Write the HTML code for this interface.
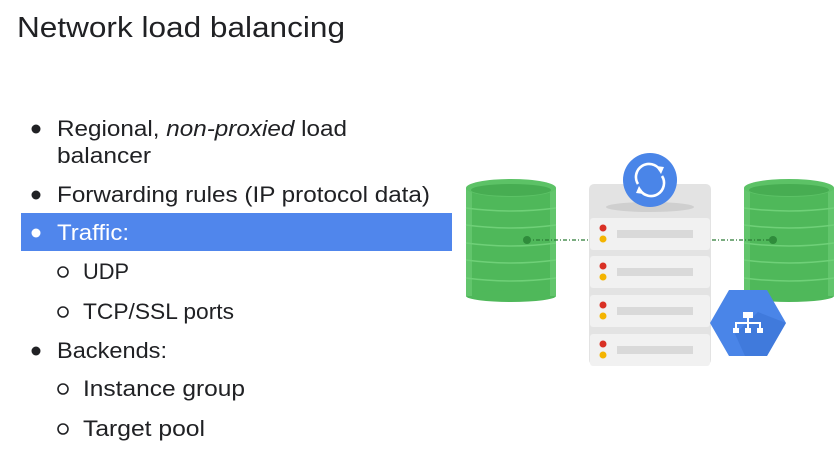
<!DOCTYPE html>
<html><head><meta charset="utf-8"><style>
html,body{margin:0;padding:0;background:#fff;width:837px;height:463px;overflow:hidden}
svg{display:block}
text{font-family:"Liberation Sans",sans-serif;fill:#202124}
</style></head><body>
<svg width="837" height="463" viewBox="0 0 837 463">
<text x="17" y="37" font-size="29" textLength="328" lengthAdjust="spacingAndGlyphs">Network load balancing</text>
<rect x="21" y="213" width="431" height="38" fill="#5086ec"/>
<g font-size="22">
<circle cx="36" cy="129" r="4.5" fill="#202124"/>
<text x="57" y="136" textLength="290" lengthAdjust="spacingAndGlyphs">Regional, <tspan font-style="italic">non-proxied</tspan> load</text>
<text x="57" y="163" textLength="94" lengthAdjust="spacingAndGlyphs">balancer</text>
<circle cx="36" cy="195" r="4.5" fill="#202124"/>
<text x="57" y="202" textLength="373" lengthAdjust="spacingAndGlyphs">Forwarding rules (IP protocol data)</text>
<circle cx="36" cy="233" r="4.5" fill="#fff"/>
<text x="57" y="240" style="fill:#fff" textLength="72" lengthAdjust="spacingAndGlyphs">Traffic:</text>
<circle cx="63" cy="272" r="5" fill="none" stroke="#202124" stroke-width="1.6"/>
<text x="83" y="279" textLength="46" lengthAdjust="spacingAndGlyphs">UDP</text>
<circle cx="63" cy="312" r="5" fill="none" stroke="#202124" stroke-width="1.6"/>
<text x="83" y="319" textLength="151" lengthAdjust="spacingAndGlyphs">TCP/SSL ports</text>
<circle cx="36" cy="351" r="4.5" fill="#202124"/>
<text x="57" y="358" textLength="110" lengthAdjust="spacingAndGlyphs">Backends:</text>
<circle cx="63" cy="389" r="5" fill="none" stroke="#202124" stroke-width="1.6"/>
<text x="83" y="396" textLength="162" lengthAdjust="spacingAndGlyphs">Instance group</text>
<circle cx="63" cy="429" r="5" fill="none" stroke="#202124" stroke-width="1.6"/>
<text x="83" y="436" textLength="122" lengthAdjust="spacingAndGlyphs">Target pool</text>
</g>
<!-- cylinders -->
<g id="cyl">
<rect x="466" y="188" width="90" height="108" fill="#4fb85a"/>
<ellipse cx="511" cy="296" rx="45" ry="6" fill="#4fb85a"/>
<rect x="466" y="188" width="6" height="108" fill="#62c56c"/>
<rect x="550" y="188" width="6" height="108" fill="#62c56c"/>
<g stroke="#6fd078" stroke-width="1.5" fill="none">
<path d="M466 208 Q511 214 556 208"/><path d="M466 225 Q511 231 556 225"/><path d="M466 243 Q511 249 556 243"/><path d="M466 260 Q511 266 556 260"/><path d="M466 278 Q511 284 556 278"/>
</g>
<ellipse cx="511" cy="188" rx="45" ry="9" fill="#5cc266"/>
<ellipse cx="511" cy="190" rx="40" ry="6" fill="#47ad52"/>
</g>
<use href="#cyl" x="278"/>
<!-- dotted lines -->
<g stroke="#2a7a35" stroke-width="1.3" stroke-dasharray="4 2 1 2">
<line x1="527" y1="240" x2="588" y2="240"/><line x1="712" y1="240" x2="772" y2="240"/>
</g>
<circle cx="527" cy="240" r="4" fill="#2f8c3b"/>
<circle cx="773" cy="240" r="4" fill="#2f8c3b"/>
<!-- server -->
<rect x="589" y="184" width="122" height="181" rx="5" fill="#e3e3e3"/>
<ellipse cx="650" cy="207" rx="44" ry="5" fill="#cfcfcf"/>
<g>
<rect x="590" y="218" width="120" height="32" rx="3" fill="#f1f1f1"/>
<rect x="617" y="230" width="76" height="8" fill="#d9d9d9"/>
<circle cx="603" cy="228" r="3.5" fill="#d93025"/><circle cx="603" cy="239" r="3.5" fill="#f4b400"/>
</g>
<g transform="translate(0,38)">
<rect x="590" y="218" width="120" height="32" rx="3" fill="#f1f1f1"/>
<rect x="617" y="230" width="76" height="8" fill="#d9d9d9"/>
<circle cx="603" cy="228" r="3.5" fill="#d93025"/><circle cx="603" cy="239" r="3.5" fill="#f4b400"/>
</g>
<g transform="translate(0,77)">
<rect x="590" y="218" width="120" height="32" rx="3" fill="#f1f1f1"/>
<rect x="617" y="230" width="76" height="8" fill="#d9d9d9"/>
<circle cx="603" cy="228" r="3.5" fill="#d93025"/><circle cx="603" cy="239" r="3.5" fill="#f4b400"/>
</g>
<g transform="translate(0,116)">
<rect x="590" y="218" width="120" height="32" rx="3" fill="#f1f1f1"/>
<rect x="617" y="230" width="76" height="8" fill="#d9d9d9"/>
<circle cx="603" cy="228" r="3.5" fill="#d93025"/><circle cx="603" cy="239" r="3.5" fill="#f4b400"/>
</g>
<!-- sync circle -->
<circle cx="650" cy="180" r="27" fill="#4a85e8"/>
<g fill="none" stroke="#fff" stroke-width="2.6">
<path d="M638 184 A13 13 0 0 1 660 170"/><path d="M662 176 A13 13 0 0 1 640 190"/>
</g>
<path d="M656 166 L664 167 L661 174 Z" fill="#fff"/>
<path d="M644 194 L636 193 L639 186 Z" fill="#fff"/>
<!-- hexagon -->
<polygon points="729,290 767,290 786,323 767,356 729,356 710,323" fill="#4a85e8"/>
<polygon points="758,312 786,323 767,356 745,356 735,334" fill="#3b73d4" opacity="0.6"/>
<g fill="#fff">
<rect x="743" y="312" width="10" height="6"/>
<rect x="747" y="318" width="2" height="5"/>
<rect x="735" y="322" width="26" height="2"/>
<rect x="735" y="322" width="2" height="6"/><rect x="747" y="322" width="2" height="6"/><rect x="759" y="322" width="2" height="6"/>
<rect x="733" y="328" width="6" height="5"/><rect x="745" y="328" width="6" height="5"/><rect x="757" y="328" width="6" height="5"/>
</g>
</svg>
</body></html>
